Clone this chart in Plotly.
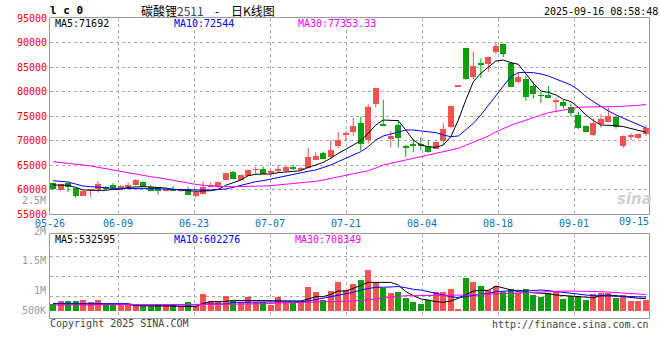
import plotly.graph_objects as go

# ---------------- data ----------------
date_labels = ["05-26", "06-09", "06-23", "07-07", "07-21", "08-04", "08-18", "09-01", "09-15"]

opens = [61260, 59900, 61260, 60240, 58740, 59900, 60170, 60580, 60920, 60240,
         60440, 60920, 61600, 60440, 60440, 59760, 60030, 59690, 60030, 58740,
         59010, 60580, 60440, 62010, 63640, 62010, 62820, 63980, 64180, 63300,
         63900, 63780, 64660, 63980, 64320, 66020, 67380, 66700, 68950, 71200,
         71740, 73570, 70100, 77520, 73300, 70240, 73160, 68700, 69150, 69350,
         68950, 68330, 69970, 72820, 81100, 88880, 83030, 85600, 85550, 88130,
         89700, 85890, 82010, 82480, 81120, 79220, 79290, 77790, 77930, 76910,
         75210, 72960, 71120, 73370, 73780, 74730, 68880, 70850, 70440, 71260]
highs = [61400, 61200, 61400, 60300, 59800, 60100, 61730, 60700, 61330, 60900,
         61460, 62100, 61700, 60920, 60500, 60030, 60720, 60240, 60580, 59560,
         61730, 61460, 61600, 63400, 63780, 63000, 64100, 64660, 64660, 63980,
         65100, 64750, 65000, 64550, 68540, 67580, 67720, 70100, 71800, 71940,
         74600, 74860, 77390, 80800, 78330, 71940, 74180, 69100, 70100, 70650,
         70100, 69760, 73500, 77100, 81120, 88900, 88130, 86700, 87100, 90040,
         89800, 86000, 83980, 83160, 82010, 79970, 81120, 78610, 78270, 77450,
         75890, 73100, 74520, 75340, 76700, 74800, 71000, 71460, 71400, 73160]
lows = [59900, 59700, 59500, 58340, 58700, 58540, 59350, 59900, 60100, 60100,
        60300, 60800, 60500, 59700, 58950, 59630, 59700, 59560, 58880, 58400,
        58950, 60440, 60300, 61900, 62100, 61900, 62700, 63160, 63100, 62620,
        63300, 63700, 64000, 63900, 64250, 65950, 66150, 66360, 68400, 69900,
        71000, 67930, 69420, 76700, 73000, 68610, 68540, 66700, 67600, 67990,
        67520, 68270, 69080, 72450, 81100, 82400, 82480, 82800, 84000, 87590,
        87040, 80900, 81670, 78130, 78610, 77660, 78700, 75680, 76570, 74860,
        72350, 71700, 70920, 72620, 73700, 72420, 68540, 70100, 70300, 70920]
closes = [60030, 61120, 60440, 58740, 59760, 60030, 61120, 60030, 60240, 60780,
          60920, 62010, 60580, 59760, 59760, 59970, 59830, 60170, 58950, 59490,
          60580, 60780, 61530, 63300, 62210, 62890, 63980, 64180, 63160, 63710,
          64000, 64660, 64120, 64460, 66630, 66900, 66220, 68060, 70100, 71300,
          72960, 69350, 76840, 80720, 73030, 70920, 70580, 68600, 69050, 68950,
          67720, 69690, 72350, 77050, 81120, 82480, 85210, 85500, 87040, 89360,
          87590, 80990, 82960, 78950, 79420, 79090, 78740, 78340, 77050, 75550,
          72620, 71800, 73500, 74390, 75000, 72820, 70920, 70980, 71330, 72620]

ma5 = [60920, 60920, 60850, 60440, 59900, 59830, 59830, 59830, 60030, 60030,
       60440, 60580, 60580, 60510, 60440, 60310, 60030, 59970, 59760, 59630,
       59690, 59760, 60030, 60850, 61390, 61940, 62820, 63100, 63160, 63160,
       63440, 63640, 63710, 63840, 64520, 65000, 65540, 66360, 67380, 68200,
       69080, 69970, 71460, 73160, 74180, 74180, 74050, 72140, 70100, 69080,
       68740, 68610, 69080, 70780, 74180, 78270, 82010, 83710, 85070, 86230,
       86430, 85890, 85550, 83710, 81670, 80100, 79830, 79290, 78400, 77930,
       76770, 75210, 74050, 73160, 73160, 73030, 72820, 72480, 72140, 71692]
ma10 = [61800, 61670, 61530, 61120, 60710, 60580, 60440, 60310, 60240, 60240,
        60170, 60170, 60170, 60170, 60170, 60100, 60030, 59970, 59900, 59900,
        59900, 59900, 59970, 60100, 60440, 60850, 61260, 61600, 61800, 62140,
        62480, 62820, 63160, 63440, 63710, 63980, 64460, 65000, 65680, 66360,
        67040, 67720, 68740, 70100, 70920, 71330, 71800, 72140, 72140, 72010,
        71800, 71600, 71120, 70780, 70920, 72140, 73500, 75210, 77250, 79290,
        81120, 83030, 83840, 83910, 83840, 83570, 83160, 82550, 82010, 81330,
        80310, 78950, 77930, 76910, 76020, 75210, 74520, 73840, 73160, 72544]
ma30 = [65680, 65540, 65340, 65200, 65000, 64800, 64520, 64250, 63980, 63710,
        63440, 63160, 62820, 62620, 62420, 62140, 61800, 61530, 61260, 61050,
        60850, 60710, 60580, 60580, 60580, 60580, 60650, 60650, 60710, 60780,
        60920, 61050, 61190, 61330, 61460, 61670, 61940, 62280, 62620, 62890,
        63160, 63500, 63840, 64390, 65000, 65340, 65680, 66020, 66360, 66700,
        67040, 67380, 67590, 68000, 68400, 69010, 69630, 70310, 70920, 71740,
        72480, 73100, 73640, 74180, 74730, 75210, 75680, 75950, 76230, 76500,
        76770, 76840, 76910, 76910, 76910, 76910, 76970, 77040, 77180, 77353.33]

# volume, in thousands of lots
vol_k = [287, 430, 430, 430, 473, 373, 473, 287, 287, 287,
         258, 229, 229, 229, 258, 258, 258, 186, 373, 229,
         731, 416, 401, 645, 444, 373, 602, 401, 373, 258,
         602, 373, 330, 430, 1030, 817, 473, 860, 1250, 903,
         1160, 1330, 1760, 1230, 1000, 774, 817, 573, 387, 301,
         459, 817, 817, 960, 86, 1430, 1250, 1070, 889, 1070,
         831, 932, 788, 946, 688, 616, 774, 860, 516, 659,
         659, 473, 740, 780, 780, 580, 700, 450, 450, 490]
vma5_k = [315, 315, 320, 320, 318, 315, 312, 290, 287, 287,
          287, 230, 215, 215, 215, 215, 215, 186, 186, 186,
          330, 400, 401, 410, 459, 459, 459, 459, 459, 459,
          459, 459, 430, 430, 516, 616, 616, 717, 860, 860,
          975, 1090, 1230, 1230, 1230, 1230, 1120, 831, 659, 516,
          473, 401, 373, 430, 545, 688, 860, 889, 889, 1070,
          1000, 903, 831, 802, 788, 774, 745, 688, 659, 659,
          616, 573, 573, 659, 688, 659, 616, 573, 545, 532.595]
vma10_k = [315, 315, 315, 315, 315, 315, 315, 315, 315, 315,
           315, 258, 258, 258, 258, 258, 258, 258, 258, 258,
           301, 301, 301, 301, 373, 373, 373, 373, 373, 373,
           373, 373, 401, 401, 430, 487, 545, 616, 659, 717,
           802, 903, 975, 1020, 1020, 1020, 1050, 1000, 932, 903,
           831, 731, 659, 616, 573, 616, 659, 688, 760, 831,
           860, 875, 889, 860, 889, 903, 875, 831, 788, 760,
           731, 688, 659, 645, 645, 630, 630, 620, 610, 602.276]
vma30_k = [258, 258, 258, 258, 258, 258, 258, 258, 258, 258,
           258, 287, 287, 287, 287, 287, 287, 287, 287, 287,
           287, 287, 290, 290, 295, 295, 300, 305, 310, 320,
           344, 350, 360, 373, 380, 390, 401, 410, 420, 425,
           430, 450, 470, 516, 560, 600, 630, 659, 659, 659,
           659, 665, 670, 675, 680, 688, 700, 715, 730, 745,
           760, 775, 790, 800, 815, 831, 840, 850, 855, 860,
           860, 855, 845, 830, 815, 788, 770, 745, 725, 708.349]

price_ticks = list(range(55000, 95001, 5000))
vol_axis_labels = ["2.5M", "2M", "1.5M", "1M", "500K"]

# ---------------- layout geometry (page pixels) ----------------
W, H = 660, 360
PL, PR, PT, PB = 50, 649, 18, 318          # plot area
MAIN_BOTTOM, VOL_TOP = 214, 234
X0, X1 = -0.4, 79.4
PPU = (PR - PL) / (X1 - X0)
VPX = 43000                                # volume units per pixel
VOL_BASE_PY = 311

def xval(px):
    return X0 + (px - PL) / PPU

def px_x(px):
    return (px - PL) / (PR - PL)

def px_y(py):
    return (PB - py) / (PB - PT)

grid_px = [50.05, 118, 194, 270, 346, 422, 498, 574]
x_tickvals = [xval(p) for p in grid_px]

RED = "#F45353"
GREEN = "#0AA00A"
MONO = "DejaVu Sans Mono"
CJK = "Noto Sans CJK SC"
GRID = "#ABABAB"
BORDER = "#9C9C9C"

idx = list(range(len(opens)))
up = [c >= o for o, c in zip(opens, closes)]
colors = [RED if u else GREEN for u in up]
body_base = [min(o, c) for o, c in zip(opens, closes)]
body_h = [max(abs(c - o), 180) for o, c in zip(opens, closes)]
volumes = [v * 1000 for v in vol_k]

fig = go.Figure()

# wicks
for col, flag in ((RED, True), (GREEN, False)):
    xs, ys = [], []
    for i in idx:
        if up[i] == flag:
            xs += [i, i, None]
            ys += [lows[i], highs[i], None]
    fig.add_trace(go.Scatter(x=xs, y=ys, mode="lines", line=dict(color=col, width=1),
                             xaxis="x", yaxis="y", hoverinfo="skip"))

# bodies
fig.add_trace(go.Bar(x=idx, y=body_h, base=body_base, width=0.8,
                     marker=dict(color=colors, line=dict(width=0)),
                     xaxis="x", yaxis="y"))

for series, col in ((ma5, "#000000"), (ma10, "#0000FF"), (ma30, "#FF00FF")):
    fig.add_trace(go.Scatter(x=idx, y=series, mode="lines", line=dict(color=col, width=1),
                             xaxis="x", yaxis="y"))

# volume
fig.add_trace(go.Bar(x=idx, y=volumes, width=0.8,
                     marker=dict(color=colors, line=dict(width=0)),
                     xaxis="x2", yaxis="y2"))
for series, col in ((vma5_k, "#000000"), (vma10_k, "#0000FF"), (vma30_k, "#FF00FF")):
    fig.add_trace(go.Scatter(x=idx, y=[v * 1000 for v in series], mode="lines",
                             line=dict(color=col, width=1), xaxis="x2", yaxis="y2"))

axis_common = dict(showline=True, mirror=True, linecolor=BORDER, linewidth=1,
                   zeroline=False, ticks="", gridcolor=GRID, griddash="dot", gridwidth=1,
                   automargin=False)

fig.update_layout(
    width=W, height=H,
    margin=dict(l=PL, r=W - PR, t=PT, b=H - PB, pad=0, autoexpand=False),
    paper_bgcolor="white", plot_bgcolor="white",
    showlegend=False, bargap=0, hovermode=False,
    xaxis=dict(domain=[0, 1], anchor="y", range=[X0, X1],
               tickmode="array", tickvals=x_tickvals, ticktext=date_labels[:8],
               tickfont=dict(family=MONO, size=10, color="#0A72C6"),
               showgrid=True, **axis_common),
    yaxis=dict(domain=[px_y(MAIN_BOTTOM), 1], anchor="x", range=[55000, 95000],
               tickmode="array", tickvals=price_ticks, ticktext=[str(t) for t in price_ticks],
               tickfont=dict(family=MONO, size=10, color="#FF0000"),
               showgrid=True, **axis_common),
    xaxis2=dict(domain=[0, 1], anchor="y2", matches="x", range=[X0, X1],
                tickmode="array", tickvals=x_tickvals, showticklabels=False,
                showgrid=True, **axis_common),
    yaxis2=dict(domain=[0, px_y(VOL_TOP)], anchor="x2",
                range=[-(PB - VOL_BASE_PY) * VPX, (VOL_BASE_PY - VOL_TOP) * VPX],
                tickmode="array",
                tickvals=[(VOL_BASE_PY - p) * VPX for p in (256, 276, 296)],
                showticklabels=False, showgrid=True, **axis_common),
)

ann = []

def text(s, px, py, color="#000000", anchor="left", size=10, family=MONO):
    ann.append(dict(text=s, x=px_x(px), y=px_y(py), xref="paper", yref="paper",
                    xanchor=anchor, yanchor="middle", showarrow=False,
                    font=dict(family=family, size=size, color=color)))

text("<b>l c 0</b>", 48, 11, size=11)
text("碳酸锂<span style='color:#444444'>2511</span>", 139, 11, size=12, family=CJK)
text("-", 213, 11, size=12, family=CJK)
text("日K线图", 229, 11, size=12, family=CJK)
text("2025-09-16 08:58:48", 660, 12, anchor="right")

text(f"MA5:{ma5[-1]}", 53, 23.5)
text(f"MA10:{ma10[-1]}", 172, 23.5, color="#0000FF")
text(f"MA30:{ma30[-1]:.2f}", 296, 23.5, color="#FF00FF")

text(f"MA5:{round(vma5_k[-1] * 1000)}", 53, 239)
text(f"MA10:{round(vma10_k[-1] * 1000)}", 172, 239, color="#0000FF")
text(f"MA30:{round(vma30_k[-1] * 1000)}", 293, 239, color="#FF00FF")

for lab, py in zip(vol_axis_labels, (200.5, 231, 260, 290.7, 310.5)):
    text(lab, 48, py, color="#9A9A9A", anchor="right")

text(date_labels[8], 651, 221.5, color="#0A72C6", anchor="right")

text("Copyright 2025 SINA.COM", 48, 323.5, color="#444444")
text("http://finance.sina.com.cn", 651, 324, color="#444444", anchor="right")

text("<b><i>sina</i></b>", 634, 199, color="#CFCFCF", anchor="center", size=15,
     family="DejaVu Sans")

fig.update_layout(annotations=ann)

# the page's default 8px body margin would shift the chart; remove it
fig.write_html("out.html", config={"displayModeBar": False},
               post_script="document.body.style.margin='0';")
